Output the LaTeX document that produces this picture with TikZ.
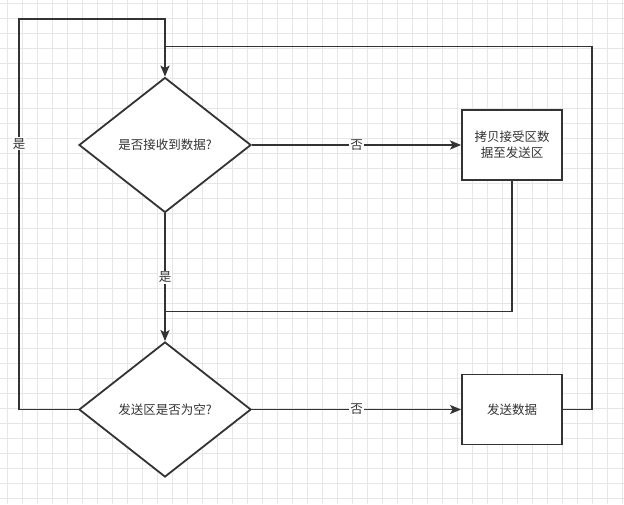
\documentclass[tikz,border=0pt]{standalone}
\usepackage{fontspec}
\newfontfamily\cjk{Noto Sans CJK SC}
\usetikzlibrary{shapes.geometric,arrows.meta}
\definecolor{linec}{HTML}{333333}
\definecolor{gridc}{HTML}{E6E6E6}
\begin{document}
\begin{tikzpicture}[x=1pt,y=-1pt,
  every node/.style={font=\cjk\fontsize{12.5}{16}\selectfont, text=linec},
  decision/.style={diamond, draw=linec, line width=1.8pt, fill=white, minimum width=172pt, minimum height=135pt, inner sep=0pt, aspect=1.27},
  procbox/.style={rectangle, draw=linec, line width=1.8pt, fill=white, minimum width=100pt, minimum height=70pt, inner sep=2pt, align=center},
  conn/.style={draw=linec, line width=1.8pt},
  arr/.style={conn, -{Stealth[length=11pt,width=9pt,inset=2.5pt]}},
  lbl/.style={fill=white, inner sep=1pt}]
\useasboundingbox (0,0) rectangle (624,504);
\fill[white] (0,0) rectangle (624,504);
\foreach \i in {0,...,41} {\draw[gridc, line width=0.8pt] (7+15*\i,0) -- (7+15*\i,504);}
\foreach \j in {0,...,33} {\draw[gridc, line width=0.8pt] (0,3+15*\j) -- (624,3+15*\j);}

\node[decision] (d1) at (165,145) {是否接收到数据?};
\node[decision] (d2) at (165,409.5) {发送区是否为空?};
\node[procbox] (b1) at (512,145) {拷贝接受区数\\据至发送区};
\node[procbox] (b2) at (512,409.5) {发送数据};

\coordinate (lt) at (19,19);
\coordinate (lb) at (19,409.5);
\coordinate (tt) at (165,19);
\coordinate (rj) at (165,46.5);
\coordinate (rt) at (592,46.5);
\coordinate (rb) at (592,409.5);
\coordinate (mj) at (165,311.5);
\coordinate (mb) at (512,311.5);

\draw[arr] (d1.east) -- node[lbl, pos=0.5] {否} (b1.west);
\draw[arr] (d2.east) -- node[lbl, pos=0.5] {否} (b2.west);
\draw[arr] (d1.south) -- node[lbl, pos=0.5] {是} (d2.north);
\draw[arr] (d2.west) -- (lb) -- node[lbl, pos=0.68] {是} (lt) -- (tt) -- (d1.north);
\draw[conn] (b2.east) -- (rb) -- (rt) -- (rj);
\draw[conn] (b1.south) -- (mb) -- (mj);
\end{tikzpicture}
\end{document}
